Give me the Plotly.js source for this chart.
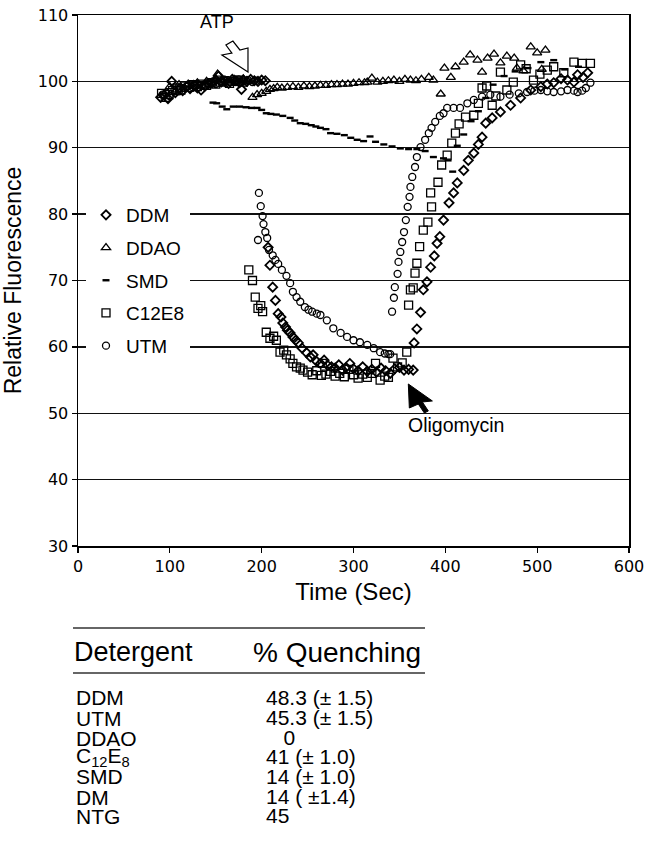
<!DOCTYPE html>
<html>
<head>
<meta charset="utf-8">
<script src="https://cdn.plot.ly/plotly-3.0.1.min.js"></script>
<style>html,body{margin:0;padding:0;background:#fff;}#chart{width:646px;height:841px;}</style>
</head>
<body>
<div id="chart"></div>
<script>
// ---------- data ----------
var seriesNames = ["DDM", "DDAO", "SMD", "C12E8", "UTM"];

var ddmT = [90,94,98,102,106,110,114,118,122,126,130,134,138,142,146,150,153,156,160,164,168,172,176,178,180,184,188,192,196,200,204,
  207,209,212,215,218,221,223,226,228,231,234,237,240,244,249,253,256,260,264,268,272,276,280,284,288,292,296,300,305,310,315,320,325,330,335,340,345,350,355,360,365,
  366,369,373,376,380,384,388,391,394,398,404,409,413,420,425,431,436,440,444,451,460,471,482,493,504,511,518,526,533,540,544,550,555];
var ddmV = [97.6,97.9,97.4,100.0,98.3,98.9,98.6,99.2,98.9,99.4,99.0,98.7,99.3,99.6,99.8,100.2,100.8,99.9,100.0,99.7,100.3,100.1,99.8,98.8,100.2,100.0,100.3,100.1,100.0,100.2,100.1,
  75.0,72.3,69.0,67.0,65.0,64.5,63.6,63.0,62.5,62.1,61.5,61.0,60.6,59.8,59.1,58.5,58.8,57.8,57.5,58.0,57.2,57.0,56.8,57.3,56.5,56.9,57.5,56.7,56.4,57.0,56.3,56.6,56.2,56.8,56.4,56.0,56.7,56.9,56.5,56.6,56.5,
  60.6,62.7,65.2,68.6,69.8,72.0,73.7,75.6,76.6,79.1,81.7,83.2,84.7,86.6,88.1,89.2,90.5,91.6,93.7,94.5,95.4,96.4,97.5,98.7,99.2,99.6,99.8,100.4,100.2,99.9,101.0,100.6,101.3];

var ddaoT = [100,110,120,130,140,150,152,160,170,180,
  190,195,200,205,209,213,217,222,228,234,240,246,252,258,264,270,276,282,288,294,300,306,312,315,320,326,332,338,344,350,356,362,368,374,382,387,
  395,399,406,411,420,427,435,440,446,453,460,467,475,478,485,493,500,505,509];
var ddaoV = [99.2,99.5,99.6,99.8,100.0,100.3,101.1,100.2,100.3,100.4,
  97.6,98.0,98.2,98.5,98.8,98.9,99.1,99.0,99.1,99.2,99.1,99.3,99.2,99.3,99.4,99.4,99.5,99.5,99.6,99.6,99.7,99.8,99.8,99.9,100.5,99.9,100.0,100.1,100.2,100.0,100.3,100.2,100.1,100.3,100.6,100.2,
  98.1,102.0,100.6,102.2,102.9,104.0,103.2,101.4,103.5,104.1,102.8,103.8,103.5,102.0,101.6,105.2,104.3,101.8,104.7];

var smdT = [147,151,157,162,169,176,183,189,195,200,205,210,216,223,231,236,242,248,254,259,264,270,275,282,290,297,304,311,318,324,333,342,351,360,369,378,387,398,403,408,413,
  420,428,436,444,452,464,476,490,504,518,530,545];
var smdV = [96.8,96.7,96.2,95.8,96.2,96.2,96.1,96.0,96.0,95.7,95.2,95.1,95.0,94.8,94.5,94.1,93.7,93.6,93.4,93.2,93.0,92.8,92.2,92.1,91.9,91.5,91.2,91.0,91.7,90.9,90.5,90.2,89.9,89.8,89.8,89.5,88.6,88.4,88.1,86.4,90.3,
  92.0,94.0,95.5,97.5,99.5,100.8,101.5,102.0,102.9,103.2,101.8,102.2];

var c12T = [91,95,99,103,108,112,116,121,125,130,135,140,145,150,155,160,165,170,175,180,
  186,190,193,196,199,201,205,209,213,216,220,224,227,231,234,238,242,245,250,255,260,265,266,270,275,280,285,290,295,300,305,310,315,320,324,329,334,338,343,348,353,358,
  360,362,365,367,369,372,376,381,384,385,392,396,402,407,411,415,422,431,436,440,445,451,455,460,467,474,482,488,496,503,511,518,529,540,549,558];
var c12V = [98.2,97.6,98.0,98.6,99.0,98.7,99.3,99.1,99.5,99.2,99.6,99.4,99.8,99.6,99.9,100.1,99.7,100.0,100.2,99.9,
  71.6,70.0,67.5,65.8,66.2,65.3,62.2,61.3,61.6,61.0,59.2,59.5,58.8,58.2,57.5,57.0,56.8,56.5,56.2,55.8,56.4,55.7,57.5,55.9,56.3,55.6,56.0,55.5,56.6,55.8,55.3,55.9,55.4,56.0,57.5,55.0,55.6,55.4,58.3,57.0,57.6,59.2,
  66.3,68.6,68.9,71.1,72.6,75.1,77.6,78.8,83.2,81.1,84.8,87.4,88.9,90.7,92.2,93.6,94.6,94.9,96.7,99.0,99.3,96.4,97.8,101.4,98.7,99.9,102.5,101.9,100.2,101.1,101.7,102.2,101.3,102.9,102.7,102.7];

var utmT = [92,96,100,105,110,115,120,125,130,135,140,145,150,155,160,165,170,175,180,185,190,194,
  196,197,199,201,202,204,206,208,212,215,218,222,227,231,234,238,242,247,251,255,260,264,271,278,286,293,300,307,315,322,329,334,338,340,
  342,344,345,348,349,351,353,355,357,359,361,362,364,367,369,373,378,382,385,389,394,398,402,409,416,424,431,440,449,460,470,480,489,497,504,511,518,526,533,540,544,549,553,558];
var utmV = [98.0,98.3,97.8,98.7,98.5,99.0,99.3,99.1,99.6,99.4,99.7,99.9,99.6,100.0,100.2,99.9,100.1,100.3,100.0,100.2,99.9,100.1,
  76.1,83.2,81.2,79.7,78.5,77.3,76.4,74.6,73.8,73.1,72.5,71.6,70.7,69.6,68.3,67.5,66.8,66.0,65.6,65.3,65.0,64.8,64.0,62.8,62.1,61.5,61.0,60.7,60.3,59.8,59.2,59.0,58.9,58.9,
  65.3,67.4,69.0,71.0,72.8,74.3,75.8,77.3,79.1,81.1,82.6,84.1,85.6,87.1,88.6,90.1,91.2,92.2,93.0,93.9,94.8,95.2,96.0,96.0,96.0,96.7,97.2,97.7,98.0,97.7,98.0,98.2,98.4,98.6,98.7,98.5,98.4,98.5,98.7,98.6,98.4,98.6,99.0,99.8];

var xTicks = [0,100,200,300,400,500,600];
var yTicks = [30,40,50,60,70,80,90,100,110];

// table
var tableHeader = ["Detergent", "% Quenching"];
var tableDetergents = ["DDM", "UTM", "DDAO", "C<sub>12</sub>E<sub>8</sub>", "SMD", "DM", "NTG"];
var tableQuenching = ["48.3 (\u00b1 1.5)", "45.3 (\u00b1 1.5)", "\u00a0\u00a0\u00a00", "41 (\u00b1 1.0)", "14 (\u00b1 1.0)", "14 ( \u00b11.4)", "45"];

// ---------- figure ----------
var symbols = {"DDM":"diamond-open","DDAO":"triangle-up-open","SMD":"line-ew-open","C12E8":"square-open","UTM":"circle-open"};
var sizes = {"DDM":7,"DDAO":8,"SMD":5,"C12E8":8,"UTM":7};
var widths = {"DDM":1.8,"DDAO":1.3,"SMD":2.4,"C12E8":1.3,"UTM":1.3};
var xs = {"DDM":ddmT,"DDAO":ddaoT,"SMD":smdT,"C12E8":c12T,"UTM":utmT};
var ys = {"DDM":ddmV,"DDAO":ddaoV,"SMD":smdV,"C12E8":c12V,"UTM":utmV};

var traces = seriesNames.map(function(n){
  return {type:"scatter", mode:"markers", name:n, x:xs[n], y:ys[n], legendgroup:n,
    marker:{symbol:symbols[n], size:sizes[n], color:"#000", line:{color:"#000", width:widths[n]}}};
});

var W = 646, H = 841, ML = 78, MR = 17, MT = 15, MB = 295;
var PW = W-ML-MR, PH = H-MT-MB;
function px(x){ return (x-ML)/PW; }
function py(y){ return (MT+PH-y)/PH; }

var annotations = [
  {text:"ATP", x:px(217), y:py(22), xref:"paper", yref:"paper", xanchor:"center", yanchor:"middle", showarrow:false, font:{family:"Liberation Sans, Arial", size:18, color:"#000"}},
  {text:"Oligomycin", x:px(406), y:py(425), xref:"paper", yref:"paper", xanchor:"left", yanchor:"middle", showarrow:false, font:{family:"Liberation Sans, Arial", size:19.5, color:"#000"}},
  {text:tableHeader[0], x:px(72), y:py(652), xref:"paper", yref:"paper", xanchor:"left", yanchor:"middle", showarrow:false, font:{family:"Liberation Sans, Arial", size:27, color:"#000"}},
  {text:tableHeader[1], x:px(251), y:py(652), xref:"paper", yref:"paper", xanchor:"left", yanchor:"middle", showarrow:false, font:{family:"Liberation Sans, Arial", size:28, color:"#000"}}
];
var rowY = [698,718,738,757,777,797,816];
tableDetergents.forEach(function(d,i){
  annotations.push({text:d, x:px(74), y:py(rowY[i]), xref:"paper", yref:"paper", xanchor:"left", yanchor:"middle", showarrow:false, font:{family:"Liberation Sans, Arial", size:21, color:"#000"}});
  annotations.push({text:tableQuenching[i], x:px(264), y:py(rowY[i]-1), xref:"paper", yref:"paper", xanchor:"left", yanchor:"middle", showarrow:false, font:{family:"Liberation Sans, Arial", size:21, color:"#000"}});
});

// callout arrow outlines (data coords)
var atpArrow = "M185.1,101.41 L156.7,103.97 L167.6,104.27 L161.1,105.48 L168.7,106.08 L176.3,104.73 L185.1,105.03 Z";
var oliArrow = "M359.7,54.41 L385.9,51.85 L375.0,51.70 L381.5,50.34 L377.1,50.04 L370.6,51.39 L360.8,50.79 Z";

var shapes = [
  {type:"path", path:atpArrow, xref:"x", yref:"y", fillcolor:"#fff", line:{color:"#000", width:1.2}},
  {type:"path", path:oliArrow, xref:"x", yref:"y", fillcolor:"#000", line:{color:"#000", width:1}},
  {type:"line", xref:"paper", yref:"paper", x0:px(73), x1:px(425), y0:py(628), y1:py(628), line:{color:"#333", width:1.3}},
  {type:"line", xref:"paper", yref:"paper", x0:px(73), x1:px(425), y0:py(673), y1:py(673), line:{color:"#333", width:1.3}}
];

var layout = {
  width:W, height:H, margin:{l:ML, r:MR, t:MT, b:MB, pad:0},
  paper_bgcolor:"#fff", plot_bgcolor:"#fff", showlegend:true,
  xaxis:{range:[0,600], tickvals:xTicks, ticks:"outside", ticklen:5, tickwidth:1.3, tickcolor:"#000",
    showline:true, linecolor:"#000", linewidth:1.5, mirror:true, showgrid:false, zeroline:false,
    tickfont:{family:"DejaVu Sans", size:16, color:"#000"},
    title:{text:"Time (Sec)", font:{family:"Liberation Sans, Arial", size:24, color:"#000"}, standoff:8}},
  yaxis:{range:[30,110], tickvals:yTicks, ticks:"outside", ticklen:5, tickwidth:1.3, tickcolor:"#000",
    showline:true, linecolor:"#000", linewidth:1.5, mirror:true, showgrid:true, gridcolor:"#111", gridwidth:1.4, zeroline:false,
    tickfont:{family:"DejaVu Sans", size:16, color:"#000"},
    title:{text:"Relative Fluorescence", font:{family:"Liberation Sans, Arial", size:23, color:"#000"}, standoff:10}},
  legend:{x:px(86), y:py(196), xanchor:"left", yanchor:"top", bgcolor:"#fff", borderwidth:0,
    traceorder:"grouped", tracegroupgap:5, font:{family:"Liberation Sans, Arial", size:19, color:"#000"}},
  annotations:annotations, shapes:shapes
};

Plotly.newPlot("chart", traces, layout, {staticPlot:true, displayModeBar:false});
</script>
</body>
</html>
